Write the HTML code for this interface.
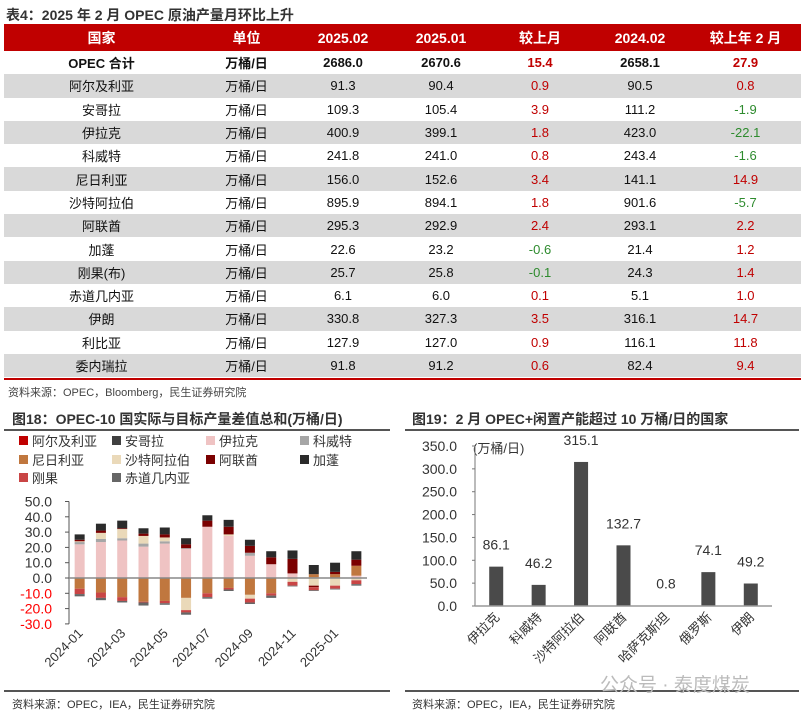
<!DOCTYPE html>
<html><head><meta charset="utf-8">
<style>
body{margin:0;width:805px;height:716px;background:#fff;overflow:hidden;font-family:"Liberation Sans","Noto Sans CJK SC",sans-serif;position:relative}
.t{position:absolute;white-space:nowrap}
table{position:absolute;left:4px;top:24px;width:797px;border-collapse:collapse;font-family:"Liberation Sans Narrow","Liberation Sans","Noto Sans CJK SC",sans-serif;font-size:13px;color:#111}
th{background:#c00000;color:#fff;height:27px;font-weight:bold;font-size:14px;padding:0}
td{height:23.3px;padding:0;text-align:center}
tr.g td{background:#d9d9d9}
tr.b td{font-weight:bold}
.r{color:#c00000}.gr{color:#2e8b2e}
</style></head><body>
<div class="t" style="left:6px;top:5px;font-size:14px;font-weight:bold;color:#333">表4：2025 年 2 月 OPEC 原油产量月环比上升</div>
<table>
<tr><th style="width:195px">国家</th><th style="width:95px">单位</th><th style="width:98px">2025.02</th><th style="width:98px">2025.01</th><th style="width:100px">较上月</th><th style="width:100px">2024.02</th><th>较上年 2 月</th></tr>
<tr class="b"><td>OPEC 合计</td><td>万桶/日</td><td>2686.0</td><td>2670.6</td><td class="r">15.4</td><td>2658.1</td><td class="r">27.9</td></tr>
<tr class="g"><td>阿尔及利亚</td><td>万桶/日</td><td>91.3</td><td>90.4</td><td class="r">0.9</td><td>90.5</td><td class="r">0.8</td></tr>
<tr><td>安哥拉</td><td>万桶/日</td><td>109.3</td><td>105.4</td><td class="r">3.9</td><td>111.2</td><td class="gr">-1.9</td></tr>
<tr class="g"><td>伊拉克</td><td>万桶/日</td><td>400.9</td><td>399.1</td><td class="r">1.8</td><td>423.0</td><td class="gr">-22.1</td></tr>
<tr><td>科威特</td><td>万桶/日</td><td>241.8</td><td>241.0</td><td class="r">0.8</td><td>243.4</td><td class="gr">-1.6</td></tr>
<tr class="g"><td>尼日利亚</td><td>万桶/日</td><td>156.0</td><td>152.6</td><td class="r">3.4</td><td>141.1</td><td class="r">14.9</td></tr>
<tr><td>沙特阿拉伯</td><td>万桶/日</td><td>895.9</td><td>894.1</td><td class="r">1.8</td><td>901.6</td><td class="gr">-5.7</td></tr>
<tr class="g"><td>阿联酋</td><td>万桶/日</td><td>295.3</td><td>292.9</td><td class="r">2.4</td><td>293.1</td><td class="r">2.2</td></tr>
<tr><td>加蓬</td><td>万桶/日</td><td>22.6</td><td>23.2</td><td class="gr">-0.6</td><td>21.4</td><td class="r">1.2</td></tr>
<tr class="g"><td>刚果(布)</td><td>万桶/日</td><td>25.7</td><td>25.8</td><td class="gr">-0.1</td><td>24.3</td><td class="r">1.4</td></tr>
<tr><td>赤道几内亚</td><td>万桶/日</td><td>6.1</td><td>6.0</td><td class="r">0.1</td><td>5.1</td><td class="r">1.0</td></tr>
<tr class="g"><td>伊朗</td><td>万桶/日</td><td>330.8</td><td>327.3</td><td class="r">3.5</td><td>316.1</td><td class="r">14.7</td></tr>
<tr><td>利比亚</td><td>万桶/日</td><td>127.9</td><td>127.0</td><td class="r">0.9</td><td>116.1</td><td class="r">11.8</td></tr>
<tr class="g"><td>委内瑞拉</td><td>万桶/日</td><td>91.8</td><td>91.2</td><td class="r">0.6</td><td>82.4</td><td class="r">9.4</td></tr>
</table>
<div style="position:absolute;left:4px;top:378px;width:797px;height:2px;background:#c00000"></div>
<div class="t" style="left:8px;top:384px;font-size:11px;color:#444">资料来源：OPEC，Bloomberg，民生证券研究院</div>

<div class="t" style="left:12px;top:409px;font-size:14px;font-weight:bold;color:#333">图18：OPEC-10 国实际与目标产量差值总和(万桶/日)</div>
<div style="position:absolute;left:4px;top:429px;width:386px;height:2px;background:#555"></div>
<div class="t" style="left:412px;top:409px;font-size:14px;font-weight:bold;color:#333">图19：2 月 OPEC+闲置产能超过 10 万桶/日的国家</div>
<div style="position:absolute;left:405px;top:429px;width:394px;height:2px;background:#555"></div>
<div style="position:absolute;left:4px;top:690px;width:386px;height:2px;background:#555"></div>
<div style="position:absolute;left:405px;top:690px;width:394px;height:2px;background:#555"></div>
<div class="t" style="left:12px;top:696px;font-size:11px;color:#333">资料来源：OPEC，IEA，民生证券研究院</div>
<div class="t" style="left:412px;top:696px;font-size:11px;color:#333">资料来源：OPEC，IEA，民生证券研究院</div>
<div class="t" style="left:600px;top:670px;font-size:19px;color:#bbb">公众号 · 泰度煤炭</div>

<svg id="left" width="805" height="716" style="position:absolute;left:0;top:0;font-family:'Liberation Sans','Noto Sans CJK SC',sans-serif"></svg>
<script>
const months=["2024-01","2024-02","2024-03","2024-04","2024-05","2024-06","2024-07","2024-08","2024-09","2024-10","2024-11","2024-12","2025-01","2025-02"];
const seriesNames=["阿尔及利亚","安哥拉","伊拉克","科威特","尼日利亚","沙特阿拉伯","阿联酋","加蓬","刚果","赤道几内亚"];
const seriesColors=["#c00000","#404040","#efc3c3","#a6a6a6","#c0773e","#ead9b9","#7b0000","#2b2b2b","#c94545","#666666"];
const algeria=[0,0,0,0,0,0,0,0,0,0,0,0,0,0];
const angola=[0,0,0,0,0,0,0,0,0,0,0,0,0,0];
const iraq=[22,23.5,24.5,20.5,22.5,19,33.5,27.5,14.5,9,3,0,0,1.5];
const kuwait=[1.5,2,1.5,2,1.5,0.5,0,0,2,0,0,0.5,0,0];
const nigeria=[-7,-9.5,-12.5,-15.5,-15,-13,-10,-6.5,-11,-10,0,2,2.5,6.5];
const saudi=[0.5,4,6,5,2.5,-8,0,1,-2.5,0,-2.5,-5,-5,-1.5];
const uae=[1,1.5,0.5,1.5,2,2.5,4,5,4.5,4.5,9.5,-1,1.5,4];
const gabon=[3.5,4.5,5,3.5,4.5,4,3.5,4.5,4,4,5.5,6,6,5.5];
const congo=[-3.5,-3.5,-2.5,-0.5,-1.5,-1.5,-2.5,-1,-2.5,-1.5,-2.5,-2,-2,-2.5];
const eqGuinea=[-1.5,-1.5,-1,-2,-1,-1.5,-1,-1,-1,-1.5,-0.5,-0.5,-0.5,-1];
const yTicks=[50,40,30,20,10,0,-10,-20,-30];

const countries=["伊拉克","科威特","沙特阿拉伯","阿联酋","哈萨克斯坦","俄罗斯","伊朗"];
const spare=[86.1,46.2,315.1,132.7,0.8,74.1,49.2];
const spareTicks=[350,300,250,200,150,100,50,0];

const NS="http://www.w3.org/2000/svg";
const svg=document.getElementById('left');
function mk(tag,attrs,parent){const e=document.createElementNS(NS,tag);for(const k in attrs)e.setAttribute(k,attrs[k]);(parent||svg).appendChild(e);return e;}

const lg=mk('g',{});


const lx=[19,112,206,300], ly=[441,460,478];
seriesNames.forEach((n,i)=>{
  const c=i%4,r=Math.floor(i/4);
  const g=mk('g',{},lg);
  
  
  mk('rect',{x:lx[c],y:ly[r]-5,width:9,height:9,fill:seriesColors[i]},g);
  const t=mk('text',{x:lx[c]+13,y:ly[r]+5,'font-size':13,fill:'#333'},g);t.textContent=n;
});

const x0=69,xEnd=367,yZero=578,pxPer=1.53;
const ly2=v=>yZero-v*pxPer;
const step=(xEnd-x0)/months.length;
const lx2=i=>x0+step*(i+0.5);
yTicks.forEach(v=>{
  const t=mk('text',{x:52,y:ly2(v)+5,'font-size':14,'text-anchor':'end',fill:v<0?'#ff0000':'#333'});
  
  
  t.textContent=v.toFixed(1);
  mk('line',{x1:x0-4,x2:x0,y1:ly2(v),y2:ly2(v),stroke:'#555'});
});
const all=[algeria,angola,iraq,kuwait,nigeria,saudi,uae,gabon,congo,eqGuinea];
months.forEach((m,i)=>{
  let pos=0,neg=0;
  all.forEach((s,k)=>{
    const v=s[i]; if(!v)return;
    let y0,y1;
    if(v>0){y0=pos;y1=pos+v;pos=y1;}else{y0=neg;y1=neg+v;neg=y1;}
    const r=mk('rect',{x:lx2(i)-5,y:Math.min(ly2(y0),ly2(y1)),width:10,height:Math.abs(v)*pxPer,fill:seriesColors[k]});
    
    
  });
  if(i%2===0){
    const t=mk('text',{x:lx2(i)+4,y:634,'font-size':13,'text-anchor':'end',fill:'#333',transform:`rotate(-45 ${lx2(i)+4} 634)`});
    
    
    t.textContent=m;
  }
});
mk('line',{x1:x0,x2:x0,y1:ly2(50),y2:ly2(-30),stroke:'#555'});
mk('line',{x1:x0,x2:xEnd,y1:yZero,y2:yZero,stroke:'#888','stroke-width':1.5});

const rx0=475,rxEnd=772,rZero=606,rPer=160/350;
const ry=v=>rZero-v*rPer;
const rstep=(rxEnd-rx0)/countries.length;
const rx=i=>rx0+rstep*(i+0.5);
spareTicks.forEach(v=>{
  const t=mk('text',{x:457,y:ry(v)+5,'font-size':14,'text-anchor':'end',fill:'#333'});
  
  
  t.textContent=v.toFixed(1);
  mk('line',{x1:rx0-3,x2:rx0,y1:ry(v),y2:ry(v),stroke:'#777'});
});
const u=mk('text',{x:473,y:453,'font-size':13,fill:'#333'});


u.textContent='(万桶/日)';
countries.forEach((c,i)=>{
  const b=mk('rect',{x:rx(i)-7,y:ry(spare[i]),width:14,height:spare[i]*rPer,fill:'#4a4a4a'});
  
  
  const t=mk('text',{x:rx(i),y:ry(spare[i])-17,'font-size':14,'text-anchor':'middle',fill:'#333'});
  
  
  t.textContent=spare[i].toFixed(1);
  const cx=rx(i)+4,cy=618;
  const l=mk('text',{x:cx,y:cy,'font-size':13,'text-anchor':'end',fill:'#333',transform:`rotate(-45 ${cx} ${cy})`});
  
  
  l.textContent=c;
});
mk('line',{x1:rx0,x2:rx0,y1:ry(350),y2:rZero,stroke:'#777'});
mk('line',{x1:rx0,x2:rxEnd,y1:rZero,y2:rZero,stroke:'#999','stroke-width':1.5});
</script>
</body></html>
